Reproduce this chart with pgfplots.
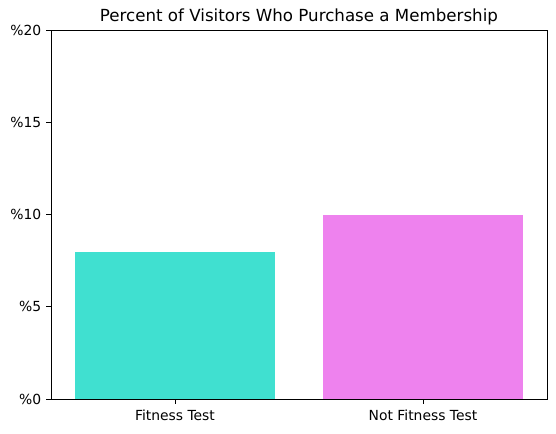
\documentclass[border=0pt]{standalone}
\usepackage{fontspec}
\setmainfont{DejaVu Sans}
\usepackage{pgfplots}
\pgfplotsset{compat=1.18}
\definecolor{turq}{HTML}{40E0D0}
\definecolor{viol}{HTML}{EE82EE}
\begin{document}
\begin{tikzpicture}
\path[use as bounding box] (-36.7pt,-24.5pt) rectangle (363.6pt,287.3pt);
\begin{axis}[
  at={(0,0)}, anchor=south west,
  scale only axis, width=357.1pt, height=265.7pt,
  xmin=-0.5, xmax=1.5, ymin=0, ymax=20,
  xtick={0,1}, xticklabels={Fitness Test,Not Fitness Test},
  ytick={0,5,10,15,20}, yticklabels={\%0,\%5,\%10,\%15,\%20},
  tick align=outside, major tick length=3.5pt,
  xtick pos=bottom, ytick pos=left,
  tick style={black, line width=0.6pt},
  axis line style={line width=0.6pt},
  ticklabel style={font=\fontsize{10pt}{12pt}\selectfont},
  xticklabel style={yshift=-0.5pt},
  title={Percent of Visitors Who Purchase a Membership},
  title style={font=\fontsize{12pt}{14pt}\selectfont, yshift=-6pt},
  ybar, bar width=0.81, bar shift=0pt,
]
\addplot[fill=turq, draw=none] coordinates {(0,7.98)};
\addplot[fill=viol, draw=none] coordinates {(1,10.0)};
\end{axis}
\end{tikzpicture}
\end{document}
